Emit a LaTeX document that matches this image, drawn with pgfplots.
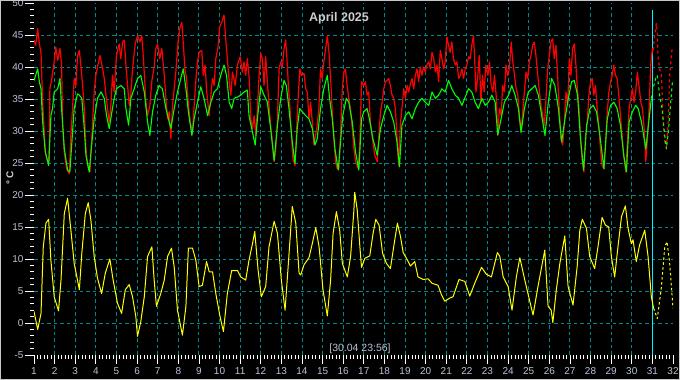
\documentclass[border=0pt]{standalone}
\usepackage{fontspec}
\setmainfont{Liberation Sans}
\usepackage{pgfplots}
\pgfplotsset{compat=1.18}
\definecolor{gridc}{RGB}{0,135,135}
\definecolor{lab}{RGB}{185,195,215}
\definecolor{ttl}{RGB}{205,205,210}
\definecolor{brd}{RGB}{200,200,200}
\definecolor{tred}{RGB}{255,0,0}
\definecolor{tgreen}{RGB}{0,255,0}
\definecolor{tyellow}{RGB}{255,255,0}
\definecolor{tcyan}{RGB}{0,240,255}
\begin{document}
\begin{tikzpicture}[x=1pt,y=1pt]
\path[use as bounding box, fill=black] (0,0) rectangle (680,380);
\begin{axis}[
 at={(34pt,25pt)}, anchor=south west,
 scale only axis, width=639pt, height=352pt,
 xmin=1, xmax=32, ymin=-5, ymax=50,
 xtick={1,...,32}, ytick={-5,0,...,50},
 minor x tick num=5, minor y tick num=4,
 tick pos=left, tick align=outside,
 major tick length=9pt, minor tick length=4pt,
 tick style={white, line width=0.8pt},
 axis line style={draw=none},
 extra x ticks={2,...,30}, extra x tick labels={},
 extra x tick style={grid=major, major tick length=0pt},
 extra y ticks={0,5,...,45}, extra y tick labels={},
 extra y tick style={grid=major, major tick length=0pt},
 grid style={gridc, dash pattern=on 3.5pt off 3pt, line width=0.9pt},
 ticklabel style={font=\fontsize{10}{12}\selectfont, text=lab},
 yticklabel style={xshift=2pt},
 /pgf/number format/assume math mode=true,
 every axis plot/.append style={line join=round},
]
\addplot[tcyan, line width=1.3pt] coordinates {(31,-5) (31,48.9)};
% red solid
\addplot[tred, line width=1.2pt] coordinates {
(1.0,44.2)(1.08,43.4)(1.18,46.0)(1.26,43.6)(1.34,42.3)(1.42,34.5)(1.55,26.7)(1.66,25.2)(1.74,25.4)(1.77,36.6)(1.85,37.9)(1.98,40.8)(2.06,43.1)(2.15,41.0)(2.26,42.9)(2.34,40.3)(2.39,30.9)(2.47,26.7)(2.58,24.1)(2.71,23.3)(2.79,29.3)(2.87,33.5)(2.95,38.2)(3.03,37.0)(3.11,41.6)(3.20,42.6)(3.28,40.0)(3.36,37.1)(3.44,33.5)(3.52,27.2)(3.60,24.6)(3.71,23.6)(3.81,29.3)(3.92,36.1)(4.00,38.7)(4.08,40.0)(4.20,41.8)(4.33,39.7)(4.41,38.2)(4.49,35.6)(4.57,33.5)(4.65,31.4)(4.73,34.0)(4.81,38.7)(4.89,36.1)(5.00,41.8)(5.13,43.6)(5.21,41.3)(5.30,43.9)(5.38,44.2)(5.46,40.3)(5.54,37.1)(5.62,34.0)(5.70,35.8)(5.78,39.7)(5.91,43.6)(6.02,44.9)(6.14,43.9)(6.23,44.9)(6.31,41.3)(6.43,34.5)(6.51,32.4)(6.62,34.0)(6.72,37.9)(6.83,40.0)(6.91,42.9)(6.99,43.6)(7.10,41.3)(7.20,42.9)(7.32,38.7)(7.40,35.1)(7.48,31.9)(7.56,33.0)(7.64,28.8)(7.72,34.0)(7.80,36.6)(7.88,39.2)(7.99,43.9)(8.07,46.0)(8.17,47.0)(8.24,43.9)(8.32,39.7)(8.40,38.2)(8.48,34.5)(8.58,31.4)(8.69,29.8)(8.77,34.0)(8.85,37.7)(8.93,40.8)(9.01,42.3)(9.14,42.6)(9.21,38.7)(9.30,40.3)(9.38,36.1)(9.50,32.4)(9.58,35.6)(9.66,38.2)(9.74,37.1)(9.82,41.3)(9.92,42.9)(10.01,46.3)(10.11,47.0)(10.22,48.1)(10.30,44.4)(10.38,41.3)(10.47,37.7)(10.55,35.6)(10.63,39.2)(10.76,37.1)(10.87,40.3)(11.00,41.6)(11.11,39.2)(11.19,40.8)(11.27,38.7)(11.35,41.3)(11.43,38.7)
(11.52,31.9)(11.60,30.4)(11.68,32.4)(11.76,29.3)(11.84,33.5)(11.92,38.7)(12.0,42.1)(12.08,41.3)(12.16,37.1)(12.24,41.6)(12.32,37.7)(12.40,34.0)(12.48,30.9)(12.56,28.3)(12.65,25.2)(12.73,27.2)(12.81,31.9)(12.89,39.7)(12.97,40.8)(13.05,40.0)(13.13,42.9)(13.21,44.2)(13.29,40.3)(13.34,37.1)(13.42,33.5)(13.50,28.8)(13.56,25.7)(13.66,24.6)(13.73,29.3)(13.82,35.6)(13.90,39.7)(13.98,38.7)(14.10,39.0)(14.18,36.6)(14.26,36.1)(14.34,31.9)(14.42,34.5)(14.50,31.4)(14.58,27.8)(14.66,29.3)(14.74,30.9)(14.82,33.5)(14.90,39.7)(14.98,38.2)(15.06,40.8)(15.15,42.9)(15.23,44.9)(15.31,42.3)(15.39,38.2)(15.47,33.0)(15.55,28.8)(15.63,25.2)(15.71,24.1)(15.79,24.1)(15.87,29.3)(15.95,36.1)(16.03,39.2)(16.11,39.7)(16.19,37.1)(16.27,35.1)(16.35,33.5)(16.44,30.4)(16.52,27.2)(16.60,25.2)(16.73,24.1)(16.81,28.3)(16.89,37.7)(17.0,37.1)(17.08,37.7)(17.16,35.6)(17.24,36.1)(17.32,31.4)(17.44,28.3)(17.53,26.2)(17.65,25.2)(17.73,29.3)(17.81,33.0)(17.89,34.5)(17.97,36.6)(18.05,37.7)(18.21,38.2)(18.29,37.1)(18.37,35.6)(18.45,35.1)(18.53,33.5)(18.61,29.3)(18.69,24.6)(18.77,30.9)(18.85,33.5)(18.94,36.6)(19.02,35.1)(19.10,37.1)(19.18,36.1)(19.26,37.4)(19.34,38.2)(19.42,36.6)(19.50,38.7)(19.58,39.7)(19.66,37.7)(19.74,40.0)(19.82,38.7)(19.90,40.0)(19.98,39.2)(20.06,40.3)(20.15,40.8)(20.23,39.7)(20.31,42.3)(20.39,41.3)(20.47,39.2)(20.55,40.3)(20.63,37.7)(20.71,42.6)(20.79,41.3)(20.87,39.7)(20.95,40.8)(21.03,44.7)(21.11,43.4)(21.19,42.3)(21.27,43.9)(21.35,41.3)(21.44,40.3)(21.52,40.8)(21.60,38.2)(21.68,38.7)(21.76,39.7)(21.84,38.2)(21.92,39.7)(22.0,40.3)(22.08,41.6)
(22.16,41.3)(22.24,43.4)(22.32,44.9)(22.37,41.8)(22.44,36.1)(22.52,38.2)(22.60,41.8)(22.68,34.5)(22.76,38.7)(22.84,36.1)(22.92,40.3)(23.02,38.7)(23.10,40.8)(23.18,37.1)(23.26,36.1)(23.34,38.7)(23.42,35.6)(23.50,29.3)(23.58,33.5)(23.66,32.4)(23.74,37.1)(23.82,36.1)(23.90,40.3)(23.98,38.7)(24.06,39.7)(24.15,43.9)(24.23,40.8)(24.31,38.7)(24.39,36.6)(24.47,35.6)(24.55,32.4)(24.63,29.8)(24.71,33.0)(24.79,36.1)(24.87,39.2)(24.95,38.2)(25.03,40.8)(25.11,41.8)(25.19,43.4)(25.27,43.9)(25.35,41.8)(25.44,38.7)(25.52,36.1)(25.60,34.0)(25.68,32.4)(25.76,30.9)(25.84,35.1)(25.92,39.7)(26.0,41.8)(26.08,43.9)(26.16,44.4)(26.24,41.3)(26.32,43.4)(26.40,38.7)(26.48,33.5)(26.56,28.8)(26.65,27.8)(26.73,31.4)(26.81,36.1)(26.89,34.0)(26.97,41.3)(27.05,38.7)(27.13,42.9)(27.21,43.6)(27.27,41.3)(27.35,37.1)(27.44,33.5)(27.52,28.3)(27.60,25.2)(27.68,23.6)(27.76,29.3)(27.84,31.4)(27.92,35.6)(28.0,37.7)(28.08,38.2)(28.16,35.6)(28.24,37.1)(28.32,33.5)(28.40,30.9)(28.48,27.2)(28.56,24.6)(28.65,24.1)(28.73,28.3)(28.81,32.9)(28.89,36.1)(28.97,37.7)(29.05,38.7)(29.13,40.3)(29.21,38.7)(29.29,38.2)(29.37,35.6)(29.45,32.4)(29.53,29.3)(29.61,26.2)(29.71,23.6)(29.79,28.3)(29.87,33.5)(29.95,35.1)(30.03,36.6)(30.11,34.5)(30.19,36.1)(30.27,39.2)(30.35,37.1)(30.44,34.5)(30.52,33.5)(30.60,30.4)(30.68,25.2)(30.76,28.8)(30.84,33.5)(30.92,40.3)(31.0,42.9)
};
% red forecast
\addplot[tred, line width=1.2pt, dash pattern=on 3pt off 3pt] coordinates {
(31.0,42.9)(31.03,42.3)(31.11,44.9)(31.19,46.8)(31.24,45.5)(31.27,41.8)(31.35,39.7)(31.44,38.7)(31.52,31.9)(31.60,28.3)(31.68,27.5)(31.76,30.9)(31.84,38.7)(31.92,41.8)(31.97,43.1)
};
% green solid
\addplot[tgreen, line width=1.1pt] coordinates {
(1.0,37.9)(1.18,39.7)(1.26,37.7)(1.34,36.6)(1.42,31.4)(1.55,26.7)(1.71,24.6)(1.82,32.4)(1.90,33.5)(1.98,36.1)(2.15,36.6)(2.26,38.2)(2.34,33.5)(2.47,27.2)(2.63,23.9)(2.74,23.6)(2.87,29.8)(2.95,33.5)(3.11,35.8)(3.20,35.6)(3.32,35.1)(3.44,30.4)(3.52,26.2)(3.68,23.6)(3.81,28.3)(3.92,31.9)(4.08,35.1)(4.25,36.1)(4.41,35.1)(4.52,32.4)(4.65,30.4)(4.78,33.0)(4.89,35.1)(5.00,36.6)(5.21,37.1)(5.38,36.6)(5.46,33.5)(5.59,30.9)(5.70,35.1)(5.86,36.6)(6.02,38.2)(6.18,38.7)(6.35,36.1)(6.51,31.4)(6.62,29.3)(6.75,33.0)(6.91,35.6)(7.07,37.1)(7.23,36.6)(7.40,33.5)(7.56,31.4)(7.64,30.4)(7.80,33.5)(7.96,36.1)(8.12,38.2)(8.24,39.7)(8.37,36.6)(8.49,33.0)(8.66,29.3)(8.77,31.9)(8.93,34.5)(9.09,36.9)(9.25,35.1)(9.42,32.4)(9.58,34.5)(9.74,36.1)(9.90,36.6)(10.06,38.7)(10.22,40.3)(10.34,38.7)(10.47,34.5)(10.59,33.5)(10.71,35.1)(10.87,35.3)(11.03,35.6)(11.19,36.1)(11.35,36.4)(11.43,32.4)
(11.60,29.8)(11.73,27.8)(11.84,31.9)(12.0,36.9)(12.16,35.6)(12.32,34.5)(12.48,30.4)(12.65,25.4)(12.81,30.9)(12.97,35.1)(13.13,37.9)(13.24,37.1)(13.37,33.5)(13.53,28.3)(13.66,24.9)(13.77,30.4)(13.89,33.5)(14.02,33.0)(14.18,32.4)(14.34,31.9)(14.50,30.4)(14.63,27.8)(14.74,28.8)(14.90,33.5)(15.06,36.6)(15.23,38.7)(15.34,35.1)(15.47,31.9)(15.60,27.2)(15.76,23.9)(15.87,28.3)(15.98,32.4)(16.15,35.1)(16.27,34.5)(16.44,31.4)(16.60,26.7)(16.76,23.9)(16.89,31.9)(17.0,33.0)(17.16,33.5)(17.27,31.9)(17.44,28.8)(17.65,26.2)(17.81,30.4)(17.97,32.4)(18.13,34.0)(18.29,33.0)(18.45,31.4)(18.61,28.3)(18.73,24.4)(18.85,30.9)(19.02,32.4)(19.18,33.0)(19.34,31.9)(19.50,33.5)(19.66,34.5)(19.82,35.1)(19.98,34.5)(20.15,34.0)(20.31,36.1)(20.47,35.1)(20.63,35.6)(20.79,36.6)(20.95,36.1)(21.11,37.9)(21.27,36.6)(21.44,35.6)(21.60,35.1)(21.76,34.0)(21.92,35.3)(22.08,36.6)
(22.24,36.1)(22.40,34.5)(22.56,33.5)(22.73,35.1)(22.89,34.0)(23.05,34.5)(23.21,35.6)(23.37,34.5)(23.50,29.4)(23.66,31.9)(23.82,34.5)(24.02,35.6)(24.18,37.1)(24.34,35.6)(24.50,33.5)(24.63,29.8)(24.79,33.5)(24.98,36.1)(25.15,36.6)(25.31,37.1)(25.47,35.6)(25.63,32.4)(25.79,29.3)(25.95,34.5)(26.11,38.2)(26.27,37.1)(26.44,33.5)(26.60,28.3)(26.76,31.9)(26.92,35.1)(27.08,37.7)(27.21,37.9)(27.37,35.6)(27.50,29.4)(27.66,23.9)(27.81,30.9)(27.97,33.5)(28.13,34.0)(28.29,33.0)(28.45,29.4)(28.65,24.1)(28.81,31.9)(28.97,34.0)(29.13,34.5)(29.29,33.5)(29.45,30.9)(29.61,26.2)(29.74,23.6)(29.87,31.4)(30.03,33.0)(30.19,34.0)(30.31,33.5)(30.47,31.4)(30.68,27.2)(30.84,31.9)(30.95,35.1)
};
% green forecast
\addplot[tgreen, line width=1.1pt, dash pattern=on 3pt off 3pt] coordinates {
(30.95,35.1)(31.03,36.6)(31.16,38.2)(31.24,38.7)(31.35,35.6)(31.47,33.5)(31.56,30.4)(31.68,27.2)(31.79,30.4)(31.89,34.5)(31.97,37.6)
};
% yellow solid
\addplot[tyellow, line width=1pt] coordinates {
(1.0,1.8)(1.18,-1.0)(1.34,1.5)(1.45,11.9)(1.58,15.6)(1.71,16.2)(1.82,9.8)(1.98,4.1)(2.19,1.9)(2.31,6.7)(2.47,17.1)(2.63,19.5)(2.79,14.5)(2.95,9.3)(3.08,7.2)(3.20,5.2)(3.32,10.9)(3.49,17.1)(3.63,18.8)(3.76,16.1)(3.92,10.4)(4.08,7.0)(4.28,4.6)(4.46,7.8)(4.68,10.0)(4.84,6.7)(5.05,3.1)(5.25,1.5)(5.43,5.2)(5.62,6.0)(5.78,4.1)(5.94,1.0)(6.02,-2.1)(6.18,0.2)(6.35,4.1)(6.51,10.4)(6.72,11.9)(6.83,6.7)(6.94,2.6)(7.15,4.6)(7.32,6.7)(7.48,10.4)(7.67,11.7)(7.80,8.8)(7.96,2.0)(8.20,-1.9)(8.37,2.6)(8.49,11.7)(8.69,11.7)(8.85,9.8)(9.01,5.7)(9.17,5.9)(9.37,9.6)(9.50,8.0)(9.66,8.0)(9.82,4.6)(10.01,1.25)(10.19,-1.35)(10.38,4.6)(10.59,8.2)(10.87,8.2)(11.03,7.2)(11.27,6.7)(11.43,9.8)(11.60,12.4)(11.71,14.3)(11.87,8.3)(12.03,4.1)(12.24,5.7)(12.40,11.9)(12.65,15.9)(12.81,14.0)(13.0,6.7)(13.18,2.0)(13.34,9.3)(13.53,18.2)(13.70,15.6)(13.86,7.8)(13.94,7.5)(14.10,9.1)(14.34,10.2)(14.50,12.4)(14.67,14.9)(14.83,11.9)(15.02,5.2)(15.23,1.1)(15.39,6.7)(15.51,14.0)(15.67,17.4)(15.83,14.5)(15.96,9.3)(16.20,7.2)(16.36,10.4)(16.52,17.7)
(16.56,20.4)(16.68,17.7)(16.81,11.9)(16.89,8.7)(17.05,10.1)(17.29,10.5)(17.45,14.0)(17.58,16.2)(17.74,15.3)(17.91,10.9)(18.10,9.3)(18.29,8.5)(18.45,11.9)(18.63,15.6)(18.78,13.5)(18.91,11.0)(19.07,10.1)(19.26,8.9)(19.47,9.6)(19.63,7.2)(19.88,6.8)(20.12,6.9)(20.31,6.2)(20.60,5.9)(20.77,4.4)(20.93,3.4)(21.17,3.9)(21.33,4.1)(21.62,6.8)(21.90,6.5)(22.14,4.2)(22.38,6.2)(22.71,8.7)(22.95,7.6)(23.19,7.2)(23.48,11.0)(23.60,10.4)(23.76,7.2)(24.0,5.7)(24.19,2.0)(24.40,7.2)(24.57,10.2)(24.81,6.7)(25.0,4.1)(25.21,1.25)(25.45,5.7)(25.78,11.4)(25.94,2.6)(26.09,2.0)(26.17,0.05)(26.34,5.2)(26.51,9.3)(26.75,13.6)(26.91,5.7)(27.15,2.8)(27.35,8.8)(27.48,14.5)(27.60,16.2)(27.80,14.8)(27.96,10.4)(28.20,8.5)(28.36,11.9)(28.56,16.5)(28.72,15.3)(28.88,15.0)(29.01,10.4)(29.17,7.2)(29.33,11.9)(29.50,16.6)(29.69,18.3)(29.82,14.8)(29.98,12.4)(30.06,13.0)(30.22,9.6)(30.38,12.2)(30.63,14.5)(30.79,10.4)(30.95,4.1)(31.06,2.3)
};
% yellow forecast
\addplot[tyellow, line width=1pt, dash pattern=on 2.5pt off 2.5pt] coordinates {
(31.06,2.3)(31.24,0.7)(31.44,5.7)(31.60,11.9)(31.71,12.7)(31.84,9.3)(32.0,2.3)
};
\end{axis}
\node[font=\bfseries\fontsize{12.5}{14}\selectfont, text=ttl] at (339,362) {April 2025};
\node[font=\fontsize{10.5}{12}\selectfont, text=lab] at (360,31) {[30.04 23:56]};
\node[rotate=90, font=\bfseries\fontsize{10}{12}\selectfont, text=ttl] at (10,202) {° C};
\draw[brd, line width=2pt] (0,0) rectangle (680,380);
\end{tikzpicture}
\end{document}
